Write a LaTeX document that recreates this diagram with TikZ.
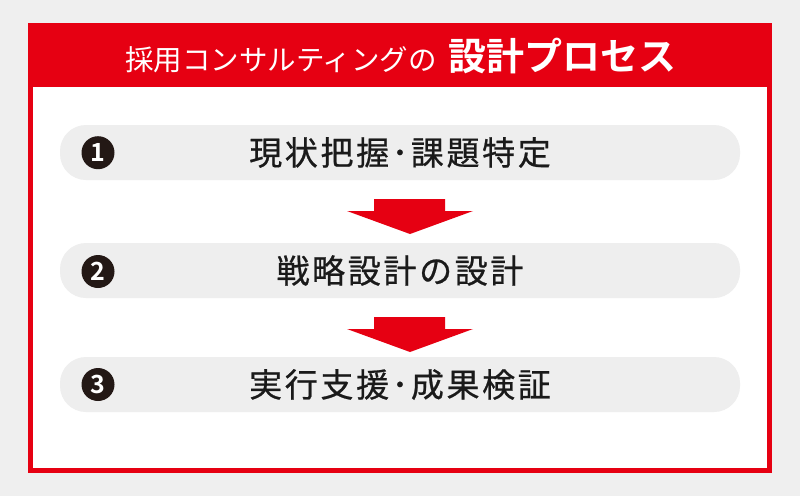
\documentclass[tikz,border=0pt]{standalone}
\usepackage{fontspec}
\newfontfamily\cjk{Noto Sans CJK JP}
\newfontfamily\cjkbold{Noto Sans CJK JP Bold}
\newfontfamily\cjkmed{Noto Sans CJK JP}[FakeBold=0.7,LetterSpace=8]
\definecolor{bgray}{HTML}{EFEFEF}
\definecolor{pillgray}{HTML}{EEEEEE}
\definecolor{accent}{HTML}{E60012}
\definecolor{numdark}{HTML}{231815}
\definecolor{txtdark}{HTML}{1A1A1A}
\begin{document}
\begin{tikzpicture}[x=1pt,y=-1pt,
  pillbox/.style={fill=pillgray,rounded corners=26pt,minimum width=680pt,minimum height=55pt,inner sep=0pt,text=txtdark,font=\cjkmed\fontsize{33}{36}\selectfont},
  numdot/.style={circle,fill=numdark,minimum size=33pt,inner sep=0pt,text=white,font=\cjkbold\fontsize{25}{26}\selectfont},
  downarrow/.style={fill=accent}]
\fill[bgray] (0,0) rectangle (800,496);
\useasboundingbox (0,0) rectangle (800,496);
\fill[accent] (28,23) rectangle (772,473);
\fill[white] (33,87) rectangle (767,468);
\node[text=white,inner sep=0pt,anchor=center] (title) at (401,56)
  {{\cjk\fontsize{28.5}{30}\selectfont 採用コンサルティングの}\hspace{12pt}{\cjkbold\fontsize{38}{40}\selectfont 設計プロセス}};
\node[pillbox] (s1) at (400,152.5) {現状把握･課題特定};
\node[pillbox] (s2) at (400,270.5) {戦略設計の設計};
\node[pillbox] (s3) at (400,384.5) {実行支援･成果検証};
\node[numdot] (n1) at (98,152.7) {1};
\node[numdot] (n2) at (98,271.5) {2};
\node[numdot] (n3) at (98,384.5) {3};
\fill[downarrow] (374,199) -- (445,199) -- (445,211) -- (473,211) -- (410,234) -- (347,211) -- (374,211) -- cycle;
\fill[downarrow] (374,317) -- (445,317) -- (445,329) -- (473,329) -- (410,352) -- (347,329) -- (374,329) -- cycle;
\end{tikzpicture}
\end{document}
